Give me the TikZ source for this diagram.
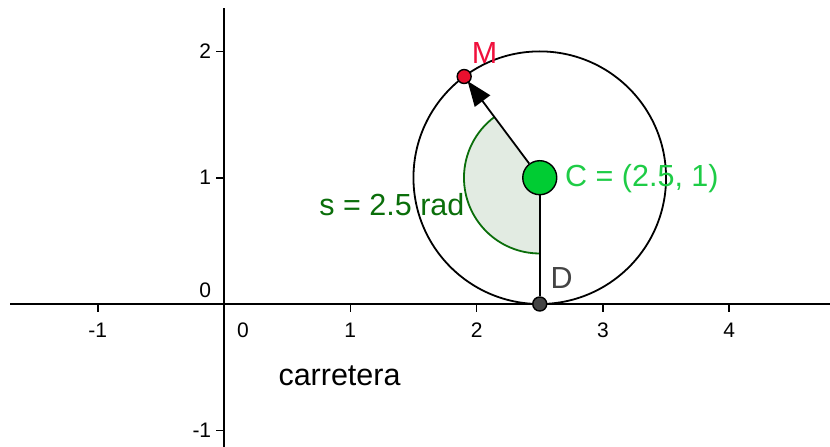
\documentclass[tikz,border=0pt]{standalone}
\usepackage{fontspec}
\setmainfont{Liberation Sans}
\usetikzlibrary{arrows.meta}
\definecolor{mred}{HTML}{E8102E}
\definecolor{mlabel}{HTML}{F0103C}
\definecolor{cgreen}{HTML}{00CC33}
\definecolor{clabel}{HTML}{1ECC46}
\definecolor{sgreen}{HTML}{0A6E0A}
\definecolor{sfill}{HTML}{E2EBE2}
\definecolor{dgray}{HTML}{444444}
\begin{document}
\begin{tikzpicture}[x=126.3pt,y=126.3pt,
  axis/.style={line width=2pt,black},
  tick/.style={line width=1.6pt,black},
  ticklab/.style={font=\fontsize{21}{21}\selectfont,inner sep=0pt},
  lab/.style={font=\fontsize{30.5}{30.5}\selectfont,inner sep=0pt},
  pt/.style={circle,draw=black,line width=1.4pt,inner sep=0pt},
  seg/.style={line width=1.8pt,black}]
\useasboundingbox (-1.7736,-1.1322) rectangle (4.7981,2.4070);
% axes
\coordinate (xl) at (-1.694,0);
\coordinate (xr) at (4.798,0);
\coordinate (yb) at (0,-1.132);
\coordinate (yt) at (0,2.344);
\draw[axis] (xl) -- (xr);
\draw[axis] (yb) -- (yt);
% x ticks
\foreach \i in {-1,1,2,3,4}{
  \draw[tick] (\i,0) -- (\i,-0.065);
  \node[ticklab] (xt\i) at (\i,-0.21) {\i};
}
\node[ticklab] (xt0) at (0.15,-0.21) {0};
% y ticks
\foreach \j in {-1,1,2}{
  \draw[tick] (0,\j) -- (-0.065,\j);
}
\node[ticklab,anchor=east] (yt2) at (-0.1,2) {2};
\node[ticklab,anchor=east] (yt1) at (-0.1,1) {1};
\node[ticklab,anchor=east] (ytm1) at (-0.1,-1) {-1};
\node[ticklab,anchor=east] (yt0) at (-0.1,0.11) {0};
% circle
\draw[line width=1.8pt,black] (2.5,1) circle[radius=1];
% sector
\fill[sfill] (2.5,1) -- ++(-90:0.6) arc[start angle=-90,end angle=-233.24,radius=0.6] -- cycle;
\draw[sgreen,line width=1.8pt] (2.5,1) ++(-90:0.6) arc[start angle=-90,end angle=-233.24,radius=0.6];
% points
\node[pt,fill=cgreen,minimum size=34pt] (C) at (2.5,1) {};
\node[pt,fill=dgray,minimum size=14pt] (D) at (2.5,0) {};
\node[pt,fill=mred,minimum size=14pt] (M) at (1.9015,1.8011) {};
\draw[seg] (C) -- (D);
\draw[seg,-{Triangle[length=25pt,width=19pt]},shorten >=-2pt] (C) -- (M);
% labels
\node[lab,text=mlabel,anchor=south west] (Ml) at (1.96,1.905) {M};
\node[lab,text=clabel,anchor=west] (Cl) at (2.7,0.995) {C = (2.5, 1)};
\node[lab,text=dgray,anchor=south west] (Dl) at (2.585,0.125) {D};
\node[lab,text=sgreen,anchor=east] (sl) at (1.905,0.79) {s = 2.5 rad};
\node[lab,anchor=west] (road) at (0.43,-0.57) {carretera};
\end{tikzpicture}
\end{document}
